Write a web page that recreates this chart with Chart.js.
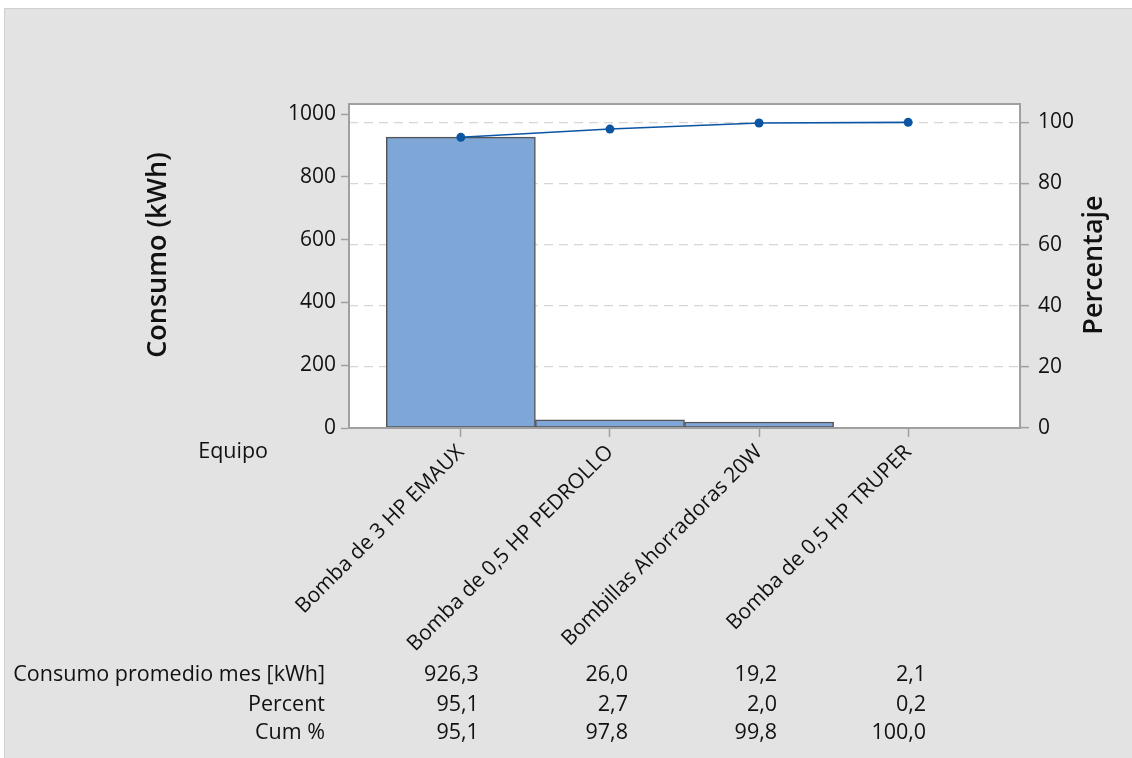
<!DOCTYPE html>
<html>
<head>
<meta charset="utf-8">
<script src="https://cdn.jsdelivr.net/npm/chart.js@4.4.0/dist/chart.umd.min.js"></script>
<style>
html, body { margin: 0; padding: 0; background: #fff; overflow: hidden; }
#marco { position: absolute; left: 4px; top: 8px; width: 1128px; height: 750px; background: #e3e3e3; border-top: 1px solid #cfcfcf; border-left: 1px solid #cfcfcf; }
#grafico { position: absolute; left: 0; top: 0; }
</style>
</head>
<body>
<div id="marco"><canvas id="grafico" width="1127" height="749"></canvas></div>
<script>
const equipos = ['Bomba de 3 HP EMAUX', 'Bomba de 0,5 HP PEDROLLO', 'Bombillas Ahorradoras 20W', 'Bomba de 0,5 HP TRUPER'];
const consumo = [926.3, 26.0, 19.2, 2.1];
const porcentaje = [95.1, 2.7, 2.0, 0.2];
const acumulado = [95.1, 97.8, 99.8, 100.0];
const ticksConsumo = [0, 200, 400, 600, 800, 1000];
const ticksPorcentaje = [0, 20, 40, 60, 80, 100];

const total = consumo.reduce((a, b) => a + b, 0);
const maxConsumo = 1032;
const fuente = "'Open Sans', sans-serif";
const gris = '#a0a0a0';

function coma(v) {
    return v.toFixed(1).replace('.', ',');
}

// fondo blanco del area de grafico y marco
const fondo = {
    id: 'fondo',
    beforeDraw(chart) {
        const a = chart.chartArea;
        const ctx = chart.ctx;
        ctx.save();
        ctx.fillStyle = '#fff';
        ctx.fillRect(a.left, a.top, a.right - a.left, a.bottom - a.top);
        ctx.restore();
    },
    afterDraw(chart) {
        const a = chart.chartArea;
        const ctx = chart.ctx;
        ctx.save();
        ctx.strokeStyle = gris;
        ctx.lineWidth = 2;
        ctx.strokeRect(a.left, a.top, a.right - a.left, a.bottom - a.top);
        ctx.restore();
    }
};

// titulos de ejes y tabla de valores debajo del eje
const tabla = {
    id: 'tabla',
    afterDraw(chart) {
        const ctx = chart.ctx;
        const x = chart.scales.x;
        const filas = [
            ['Consumo promedio mes [kWh]', consumo],
            ['Percent', porcentaje],
            ['Cum %', acumulado]
        ];
        const ys = [666, 696, 724];
        ctx.save();
        ctx.fillStyle = '#111';
        ctx.textBaseline = 'middle';
        ctx.textAlign = 'center';
        ctx.font = '600 27px ' + fuente;
        [['Consumo (kWh)', 153, 246], ['Percentaje', 1089, 256]].forEach(t => {
            ctx.save();
            ctx.translate(t[1], t[2]);
            ctx.rotate(-Math.PI / 2);
            ctx.fillText(t[0], 0, 0);
            ctx.restore();
        });
        ctx.font = '21.5px ' + fuente;
        ctx.textAlign = 'right';
        ctx.fillText('Equipo', 263, 443);
        filas.forEach((f, r) => {
            ctx.fillText(f[0], 320, ys[r]);
            f[1].forEach((v, i) => {
                ctx.fillText(coma(v), x.getPixelForValue(i) + 18, ys[r]);
            });
        });
        ctx.restore();
    }
};

const ctx = document.querySelector('#grafico').getContext('2d');

new Chart(ctx, {
    type: 'bar',
    data: {
        datasets: [{
            type: 'line',
            data: acumulado.map((v, i) => ({x: i, y: v})),
            yAxisID: 'y2',
            borderColor: '#0b55a3',
            backgroundColor: '#0b55a3',
            borderWidth: 1.6,
            pointRadius: 4.5,
            pointBorderWidth: 0,
            tension: 0,
            order: 0
        }, {
            data: consumo.map((v, i) => ({x: i, y: v})),
            yAxisID: 'y',
            backgroundColor: '#7ea6d7',
            borderColor: '#555',
            borderWidth: 1.5,
            borderSkipped: false,
            barPercentage: 1,
            categoryPercentage: 1,
            order: 1
        }]
    },
    options: {
        responsive: false,
        animation: false,
        layout: { padding: { left: 133, right: 18, top: 95, bottom: 0 } },
        plugins: {
            legend: { display: false },
            tooltip: { enabled: false }
        },
        scales: {
            x: {
                type: 'linear',
                position: 'bottom',
                offset: false,
                min: -0.75,
                max: 3.75,
                afterBuildTicks: s => { s.ticks = equipos.map((e, i) => ({value: i})); },
                afterFit: s => { s.height = 330; },
                grid: { offset: false, drawOnChartArea: false, tickLength: 9, tickColor: gris, tickWidth: 1.5 },
                border: { color: gris, width: 2 },
                ticks: {
                    autoSkip: false,
                    minRotation: 45,
                    maxRotation: 45,
                    padding: 3,
                    color: '#111',
                    font: { family: fuente, size: 21 },
                    callback: v => equipos[v]
                }
            },
            y: {
                position: 'left',
                min: 0,
                max: maxConsumo,
                afterBuildTicks: s => { s.ticks = ticksConsumo.map(v => ({value: v})); },
                afterFit: s => { s.width = 211; },
                grid: { drawOnChartArea: false, tickLength: 8, tickColor: gris, tickWidth: 1.5 },
                border: { color: gris, width: 2 },
                ticks: { padding: 5, color: '#111', font: { family: fuente, size: 21 }, callback: v => String(v) }
            },
            y2: {
                position: 'right',
                min: 0,
                max: maxConsumo / total * 100,
                afterBuildTicks: s => { s.ticks = ticksPorcentaje.map(v => ({value: v})); },
                afterFit: s => { s.width = 94; },
                grid: { color: '#d6d6d6', lineWidth: 1.3, tickLength: 9, tickColor: gris, tickWidth: 1.5 },
                border: { color: gris, width: 2, dash: [9, 6] },
                ticks: { padding: 9, color: '#111', font: { family: fuente, size: 21 }, callback: v => String(v) }
            }
        }
    },
    plugins: [fondo, tabla]
});
</script>
</body>
</html>
